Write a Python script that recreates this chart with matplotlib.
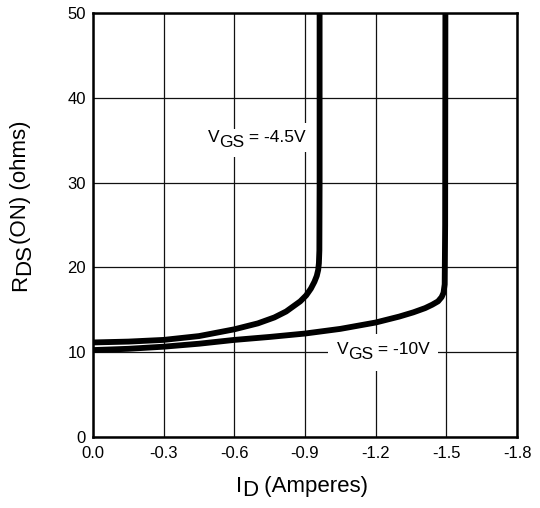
import matplotlib
matplotlib.use("Agg")
import matplotlib.pyplot as plt

plt.rcParams['font.family'] = ['Liberation Sans', 'DejaVu Sans']

# ---- data ----
x_ticks = [0.0, -0.3, -0.6, -0.9, -1.2, -1.5, -1.8]
x_tick_labels = ['0.0', '-0.3', '-0.6', '-0.9', '-1.2', '-1.5', '-1.8']
y_ticks = [0, 10, 20, 30, 40, 50]
y_tick_labels = ['0', '10', '20', '30', '40', '50']

id_45 = [0.0, -0.15, -0.3, -0.45, -0.6, -0.7, -0.77, -0.82, -0.85, -0.88, -0.905,
         -0.925, -0.94, -0.95, -0.956, -0.959, -0.961, -0.962, -0.962]
r_45 = [11.15, 11.25, 11.45, 11.9, 12.7, 13.4, 14.1, 14.8, 15.4, 16.0, 16.7,
        17.5, 18.3, 19.0, 19.7, 20.5, 22.0, 30.0, 50.0]

id_10 = [0.0, -0.15, -0.3, -0.45, -0.6, -0.75, -0.9, -1.05, -1.2, -1.3, -1.36,
         -1.41, -1.44, -1.465, -1.48, -1.488, -1.493, -1.495, -1.496]
r_10 = [10.25, 10.4, 10.65, 11.0, 11.45, 11.8, 12.2, 12.75, 13.5, 14.2, 14.7,
        15.2, 15.6, 16.0, 16.5, 17.0, 18.0, 25.0, 50.0]

label_45 = [('V', 0), ('GS', 4.0), (' = -4.5V', 0)]
label_10 = [('V', 0), ('GS', 3.8), (' = -10V', 0)]
xlabel_pieces = [('I', 0), ('D', 3.0), (' (Amperes)', 0)]
ylabel_pieces = [('R', 0), ('DS', 3.0), ('(ON) (ohms)', 0)]

fig = plt.figure(figsize=(5.4, 5.08), dpi=100)
ax = fig.add_axes([93/540, (508-437)/508, 424/540, 424/508])

ax.plot(id_45, r_45, color='black', lw=4.2, solid_capstyle='butt', solid_joinstyle='round', zorder=3)
ax.plot(id_10, r_10, color='black', lw=4.2, solid_capstyle='butt', solid_joinstyle='round', zorder=3)

ax.set_xlim(0, -1.8)
ax.set_ylim(0, 50)
ax.set_xticks(x_ticks)
ax.set_xticklabels(x_tick_labels)
ax.set_yticks(y_ticks)
ax.set_yticklabels(y_tick_labels)
ax.tick_params(axis='both', length=0, labelsize=12, colors='black')
ax.tick_params(axis='x', pad=6.5)
ax.tick_params(axis='y', pad=5)
ax.grid(True, color='#111111', lw=0.9, zorder=1)
ax.set_axisbelow(True)
for s in ax.spines.values():
    s.set_linewidth(1.8)
    s.set_color('black')


def chain(x, y, pieces, xycoords, fontsize, rotation=0, color='black',
          bbox=None, zorder=5):
    prev = None
    prev_drop = 0
    for s, drop in pieces:
        kw = dict(fontsize=fontsize, color=color, rotation=rotation, zorder=zorder,
                  textcoords='offset points', annotation_clip=False)
        if bbox is not None:
            kw['bbox'] = bbox
        if prev is None:
            if rotation == 0:
                t = ax.annotate(s, xy=(x, y), xycoords=xycoords, xytext=(0, -drop),
                                ha='left', va='baseline', **kw)
            else:
                t = ax.annotate(s, xy=(x, y), xycoords=xycoords, xytext=(drop, 0),
                                ha='left', va='bottom', **kw)
        else:
            if rotation == 0:
                t = ax.annotate(s, xy=(1, 0), xycoords=prev, xytext=(0, prev_drop - drop),
                                ha='left', va='bottom', **kw)
            else:
                t = ax.annotate(s, xy=(0, 1), xycoords=prev, xytext=(drop - prev_drop, 0),
                                ha='left', va='bottom', **kw)
        prev = t
        prev_drop = drop
    return prev


# in-plot labels: white background chain first, then visible text
for pieces, (lx, ly), pad in [(label_45, (-0.486, 34.8), 5),
                              (label_10, (-1.034, 9.79), 6)]:
    chain(lx, ly, pieces, 'data', 12.5, color='white',
          bbox=dict(facecolor='white', edgecolor='none', pad=pad), zorder=4)
    chain(lx, ly, pieces, 'data', 12.5, color='black', zorder=5)

# axis labels
chain(235.5/540, (508-492)/508, xlabel_pieces, 'figure fraction', 16)
chain(10/540, (508-291)/508, ylabel_pieces, 'figure fraction', 16, rotation=90)

fig.savefig('out.png', dpi=100)
